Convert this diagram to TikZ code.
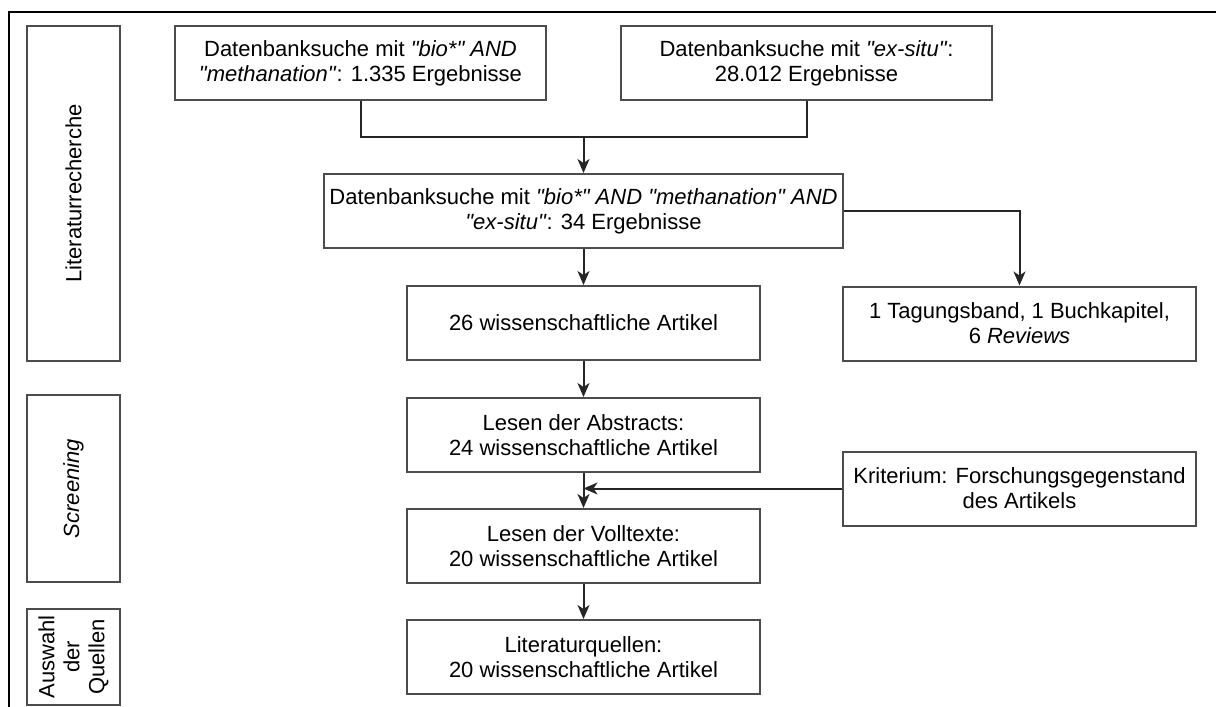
\documentclass[tikz,border=0pt]{standalone}
\usepackage{fontspec}
\setmainfont{Liberation Sans}[Ligatures=TeXOff]
\usepackage[dvipsnames]{xcolor}
\usetikzlibrary{arrows.meta}

\begin{document}
\begin{tikzpicture}[x=1pt,y=-1pt,-,>={Stealth[length=14pt,width=12pt,inset=4pt]},line width=2pt,draw=black!85,
    box node/.style={rectangle,draw=black!70,line width=2pt,inner sep=0pt,minimum width=353pt,minimum height=74pt,align=center,font=\fontsize{22}{25}\selectfont},
    phase node/.style={box node,rotate=90,minimum height=93pt}]
                \useasboundingbox (0,0) rectangle (1216,707);
                \draw[black,line width=2pt] (1216,12) -- (9,12) -- (9,707);

                % phases
                \node[phase node,minimum width=335pt] (search) at (73.5,193.5) {Literaturrecherche};
                \node[phase node,minimum width=187pt] (screening) at (73.5,488.5) {\textit{Screening}};
                \node[phase node,minimum width=96pt] (selection) at (73.5,657) {Auswahl\\der\\Quellen};

                % steps
                \node[box node,minimum width=371pt] (bio) at (360.5,63) {Datenbanksuche mit \textit{"bio*" AND}\\\textit{"methanation"}: 1.335 Ergebnisse};
                \node[box node,minimum width=371pt] (exsitu) at (806.5,63) {Datenbanksuche mit \textit{"ex-situ"}:\\28.012 Ergebnisse};
                \node[box node,minimum width=519pt] (combined) at (583.5,211) {Datenbanksuche mit \textit{"bio*" AND "methanation" AND}\\\textit{"ex-situ"}: 34 Ergebnisse};
                \node[box node] (articles) at (583.5,323) {26 wissenschaftliche Artikel};
                \node[box node] (other) at (1019.5,323.5) {1 Tagungsband, 1 Buchkapitel,\\6 \textit{Reviews}};
                \node[box node] (abstracts) at (583.5,435) {Lesen der Abstracts:\\24 wissenschaftliche Artikel};
                \node[box node] (fulltext) at (583.5,546) {Lesen der Volltexte:\\20 wissenschaftliche Artikel};
                \node[box node] (sources) at (583.5,657) {Literaturquellen:\\20 wissenschaftliche Artikel};
                \node[box node] (criterion) at (1019.5,488.5) {Kriterium: Forschungsgegenstand\\des Artikels};
                \coordinate (merge) at (583.5,137);

                \draw (bio.south) |- (merge) -| (exsitu.south);
                \draw[->] (combined.east) -| (other.north);
                \draw[->] (criterion.west) -- (criterion.west -| fulltext.north);
                \path[->]
                    (merge) edge (combined)
                    (combined) edge (articles)
                    (articles) edge (abstracts)
                    (abstracts) edge (fulltext)
                    (fulltext) edge (sources)
                    ;
            \end{tikzpicture}
\end{document}
